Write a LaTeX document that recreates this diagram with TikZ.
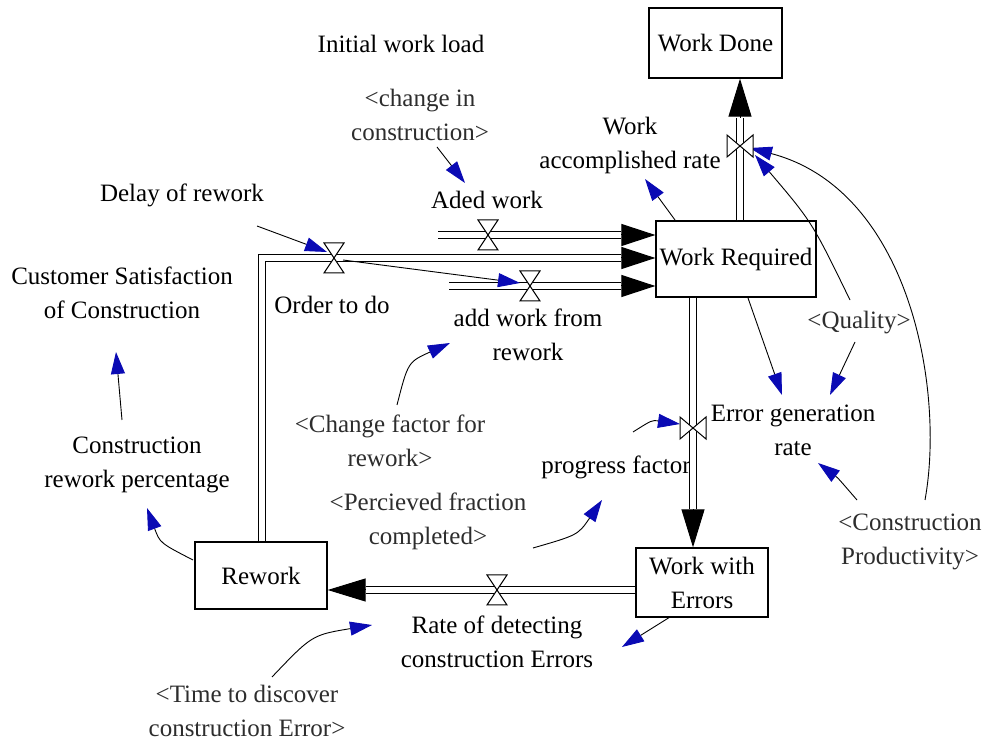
\documentclass[tikz,border=0pt]{standalone}
\usepackage{fontspec}
\setmainfont{Liberation Serif}
\usetikzlibrary{arrows.meta,calc}
\definecolor{linkblue}{RGB}{10,10,180}
\definecolor{shadowgray}{RGB}{45,45,45}
\begin{document}
\begin{tikzpicture}[x=0.5pt,y=-0.5pt,
  every node/.style={font=\fontsize{12.5}{17}\selectfont, inner sep=0pt, align=center},
  stock/.style={draw, line width=0.65pt, fill=white},
  shadow/.style={text=shadowgray},
  pipe/.style={draw, double, double distance=3pt, line width=0.5pt},
  flowtip/.style={-{Triangle[length=17pt,width=11pt]}, line width=0.5pt},
  bigtip/.style={-{Triangle[length=19pt,width=11.5pt]}, line width=0.5pt},
  link/.style={line width=0.45pt, -{Triangle[length=11pt,width=7pt,color=linkblue]}},
  valve/.style={draw, fill=white, line width=0.5pt},
  valveH/.pic={\draw[valve] (-10,-15) -- (10,-15) -- (0,0) -- cycle;
               \draw[valve] (-10,15) -- (10,15) -- (0,0) -- cycle;},
  valveV/.pic={\draw[valve] (-13,-11) -- (-13,11) -- (0,0) -- cycle;
               \draw[valve] (13,-11) -- (13,11) -- (0,0) -- cycle;}
]
\useasboundingbox (0,0) rectangle (985,742);

% stocks
\node[stock, minimum width=66.5pt, minimum height=35pt] (wdone) at (715.5,43) {Work Done};
\node[stock, minimum width=80pt, minimum height=38pt] (wreq) at (736,259) {Work Required};
\node[stock, minimum width=66pt, minimum height=34.5pt] (wwe) at (702,582.5) {Work with\\Errors};
\node[stock, minimum width=66pt, minimum height=33.5pt] (rework) at (261,575.5) {Rework};

% variables
\node (init) at (401,44) {Initial work load};
\node[shadow] (chg) at (420,115) {<change in\\construction>};
\node (aded) at (487,200) {Aded work};
\node (delay) at (182,195) {Delay of rework};
\node (cust) at (122,293) {Customer Satisfaction\\of Construction};
\node (order) at (332,305) {Order to do};
\node (addrw) at (528,335) {add work from\\rework};
\node[shadow] (chf) at (390,441) {<Change factor for\\rework>};
\node (crp) at (137,465) {Construction\\rework percentage};
\node[shadow] (perc) at (428,521) {<Percieved fraction\\completed>};
\node (prog) at (616,467) {progress factor};
\node (war) at (630,145) {Work\\accomplished rate};
\node (err) at (793,430) {Error generation\\rate};
\node[shadow] (qual) at (859,323) {<Quality>};
\node[shadow] (cprod) at (910,542) {<Construction\\Productivity>};
\node (rate) at (497,642) {Rate of detecting\\construction Errors};
\node[shadow] (tdis) at (247,711) {<Time to discover\\construction Error>};

% valve positions and free pipe ends
\coordinate (vOrder) at (334,258);
\coordinate (vAded) at (488,235);
\coordinate (vAddRw) at (530,286);
\coordinate (vWD) at (740,146);
\coordinate (vWE) at (693,428);
\coordinate (vRate) at (497,590);
\coordinate (aSrc) at (438,235);
\coordinate (rSrc) at (449,286);

% pipes
\draw[pipe] ([shift={(1,0)}]rework.north) |- ([shift={(-34,-1)}]wreq.west);
\draw[flowtip] ([shift={(-34,-1)}]wreq.west) -- ([shift={(0,-1)}]wreq.west);
\draw[pipe] (aSrc) -- ([shift={(-34,-24)}]wreq.west);
\draw[flowtip] ([shift={(-34,-24)}]wreq.west) -- ([shift={(0,-24)}]wreq.west);
\draw[pipe] (rSrc) -- ([shift={(-34,27)}]wreq.west);
\draw[flowtip] ([shift={(-34,27)}]wreq.west) -- ([shift={(0,27)}]wreq.west);
\draw[pipe] ([shift={(4,0)}]wreq.north) -- ([shift={(24.5,39)}]wdone.south);
\draw[bigtip] ([shift={(24.5,39)}]wdone.south) -- ([shift={(24.5,0)}]wdone.south);
\draw[pipe] ([shift={(-43,0)}]wreq.south) -- ([shift={(-9,-38)}]wwe.north);
\draw[bigtip] ([shift={(-9,-38)}]wwe.north) -- ([shift={(-9,0)}]wwe.north);
\draw[pipe] ([shift={(0,7.5)}]wwe.west) -- ([shift={(38,14.5)}]rework.east);
\draw[bigtip] ([shift={(38,14.5)}]rework.east) -- ([shift={(0,14.5)}]rework.east);

% links
\draw[link] ([shift={(75,31)}]delay.center) -- ([shift={(-7,-6)}]vOrder);
\draw[link] ([shift={(9,2)}]vOrder) -- ([shift={(-10,-3)}]vAddRw);
\draw[link] ([shift={(17,32)}]chg.center) -- ([shift={(-22,-17)}]aded.center);
\draw[link] ([shift={(-61,-39)}]wreq.center) -- ([shift={(15,34)}]war.center);
\draw[link] ([shift={(-9,-23)}]qual.center) .. controls (812,222) .. ([shift={(15,9)}]vWD);
\draw[link] ([shift={(15,-42)}]cprod.center) .. controls (945,390) and (910,190) .. ([shift={(10,2)}]vWD);
\draw[link] ([shift={(12,39)}]wreq.center) -- ([shift={(-11,-35)}]err.center);
\draw[link] ([shift={(-4,19)}]qual.center) -- ([shift={(37,-35)}]err.center);
\draw[link] ([shift={(-53,-42)}]cprod.center) .. controls (838,478) .. ([shift={(25,33)}]err.center);
\draw[link] ([shift={(17,-35)}]prog.center) .. controls (652,420) .. ([shift={(-13,-4)}]vWE);
\draw[link] ([shift={(105,27)}]perc.center) .. controls (578,535) .. ([shift={(-14,33)}]prog.center);
\draw[link] ([shift={(7,-36)}]chf.center) .. controls (408,362) .. ([shift={(-78,8)}]addrw.center);
\draw[link] ([shift={(-15,-45)}]crp.center) -- ([shift={(-6,59)}]cust.center);
\draw[link] ([shift={(-68,-15.5)}]rework.center) .. controls (160,543) .. ([shift={(10,43)}]crp.center);
\draw[link] ([shift={(-32,34.5)}]wwe.center) -- ([shift={(125,5)}]rate.center);
\draw[link] ([shift={(25,-34)}]tdis.center) .. controls (312,635) .. ([shift={(-125,-17)}]rate.center);

% valves
\pic at (vOrder) {valveH};
\pic at (vAded) {valveH};
\pic at (vAddRw) {valveH};
\pic at (vRate) {valveH};
\pic at (vWD) {valveV};
\pic at (vWE) {valveV};
\end{tikzpicture}
\end{document}
